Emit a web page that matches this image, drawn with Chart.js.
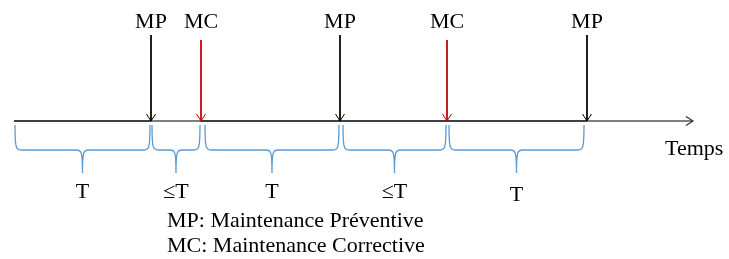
<!DOCTYPE html>
<html>
<head>
<meta charset="utf-8">
<script src="https://cdn.jsdelivr.net/npm/chart.js@4"></script>
<style>
  body { margin: 0; background: #fff; }
  canvas { display: block; }
</style>
</head>
<body>
<canvas id="grafico_maintenance" width="729" height="259"></canvas>
<script>
// dados do diagrama (eixo do tempo)
const axisStart = 14;
const axisEnd = 693;
const eventTimes = [151, 201, 340, 447, 587];
const eventTypes = ["MP", "MC", "MP", "MC", "MP"];
const intervalStarts = [14, 151, 204, 342, 448];
const intervalEnds = [151, 201, 340, 447, 585];
const intervalLabels = ["T", "\u2264T", "T", "\u2264T", "T"];
const axisTitle = "Temps";
const legendLines = ["MP: Maintenance Préventive", "MC: Maintenance Corrective"];

// estilos
const cores = { MP: "#000000", MC: "#c00000" };
const azul = "#5b9bd5";
const fonte = "22px 'Liberation Serif', 'Times New Roman', serif";
const eixoY = 121;
const topoSeta = { MP: 35, MC: 40 };

const pontosEixo = [axisStart, ...eventTimes, axisEnd].map((t) => ({ x: t, y: eixoY }));
const segmentosCinza = new Set([1, 5]);

const datasets = [
    {
        data: pontosEixo,
        showLine: true,
        borderWidth: 1.3,
        borderColor: "#000",
        pointRadius: 0,
        clip: false,
        segment: {
            borderColor: (ctx) => (segmentosCinza.has(ctx.p0DataIndex) ? "#555" : "#000"),
        },
    },
];

eventTimes.forEach((t, i) => {
    const tipo = eventTypes[i];
    datasets.push({
        data: [
            { x: t, y: topoSeta[tipo] },
            { x: t, y: eixoY },
        ],
        showLine: true,
        borderWidth: 1,
        borderColor: cores[tipo],
        pointRadius: 0,
        clip: false,
    });
});

const timelinePlugin = {
    id: "timeline",
    afterDatasetsDraw(chart) {
        const ctx = chart.ctx;
        const xs = chart.scales.x;
        const ys = chart.scales.y;
        const px = (v) => xs.getPixelForValue(v);
        const py = (v) => ys.getPixelForValue(v);
        ctx.save();

        // pontas das setas
        eventTimes.forEach((t, i) => {
            const x = px(t);
            const y = py(eixoY);
            ctx.strokeStyle = cores[eventTypes[i]];
            ctx.lineWidth = 1;
            ctx.beginPath();
            ctx.moveTo(x - 4.5, y - 7);
            ctx.lineTo(x, y);
            ctx.lineTo(x + 4.5, y - 7);
            ctx.stroke();
        });

        // seta do eixo
        ctx.strokeStyle = "#333";
        ctx.lineWidth = 1.2;
        ctx.beginPath();
        ctx.moveTo(px(axisEnd) - 7, py(eixoY) - 4.5);
        ctx.lineTo(px(axisEnd), py(eixoY));
        ctx.lineTo(px(axisEnd) - 7, py(eixoY) + 4.5);
        ctx.stroke();

        // chaves (accolades)
        ctx.strokeStyle = azul;
        ctx.lineWidth = 1.3;
        const topo = py(125), meio = py(150), ponta = py(173);
        intervalStarts.forEach((s, i) => {
            const x0 = px(s) + 1, x1 = px(intervalEnds[i]) - 1;
            const xm = (x0 + x1) / 2;
            const r = 6;
            ctx.beginPath();
            ctx.moveTo(x0, topo);
            ctx.bezierCurveTo(x0, meio - 2, x0 + 1, meio, x0 + r, meio);
            ctx.lineTo(xm - r, meio);
            ctx.bezierCurveTo(xm - 1, meio, xm, meio + 2, xm, ponta);
            ctx.moveTo(xm, ponta);
            ctx.bezierCurveTo(xm, meio + 2, xm + 1, meio, xm + r, meio);
            ctx.lineTo(x1 - r, meio);
            ctx.bezierCurveTo(x1 - 1, meio, x1, meio - 2, x1, topo);
            ctx.stroke();
        });

        // textos
        ctx.fillStyle = "#000";
        ctx.font = fonte;
        ctx.textBaseline = "alphabetic";
        ctx.textAlign = "center";
        eventTimes.forEach((t, i) => {
            ctx.fillText(eventTypes[i], px(t), py(28));
        });
        intervalLabels.forEach((lab, i) => {
            const xm = (px(intervalStarts[i]) + px(intervalEnds[i])) / 2;
            ctx.fillText(lab, xm, py(i === 4 ? 201 : 198));
        });
        ctx.textAlign = "left";
        ctx.fillText(axisTitle, px(665), py(155));
        legendLines.forEach((linha, i) => {
            ctx.fillText(linha, px(167), py(227 + i * 25));
        });
        ctx.restore();
    },
};

new Chart("grafico_maintenance", {
    type: "scatter",
    data: { datasets: datasets },
    options: {
        responsive: false,
        animation: false,
        layout: { padding: 0 },
        plugins: {
            legend: { display: false },
            tooltip: { enabled: false },
        },
        scales: {
            x: { type: "linear", min: 0, max: 729, display: false },
            y: { type: "linear", min: 0, max: 259, reverse: true, display: false },
        },
    },
    plugins: [timelinePlugin],
});
</script>
</body>
</html>
